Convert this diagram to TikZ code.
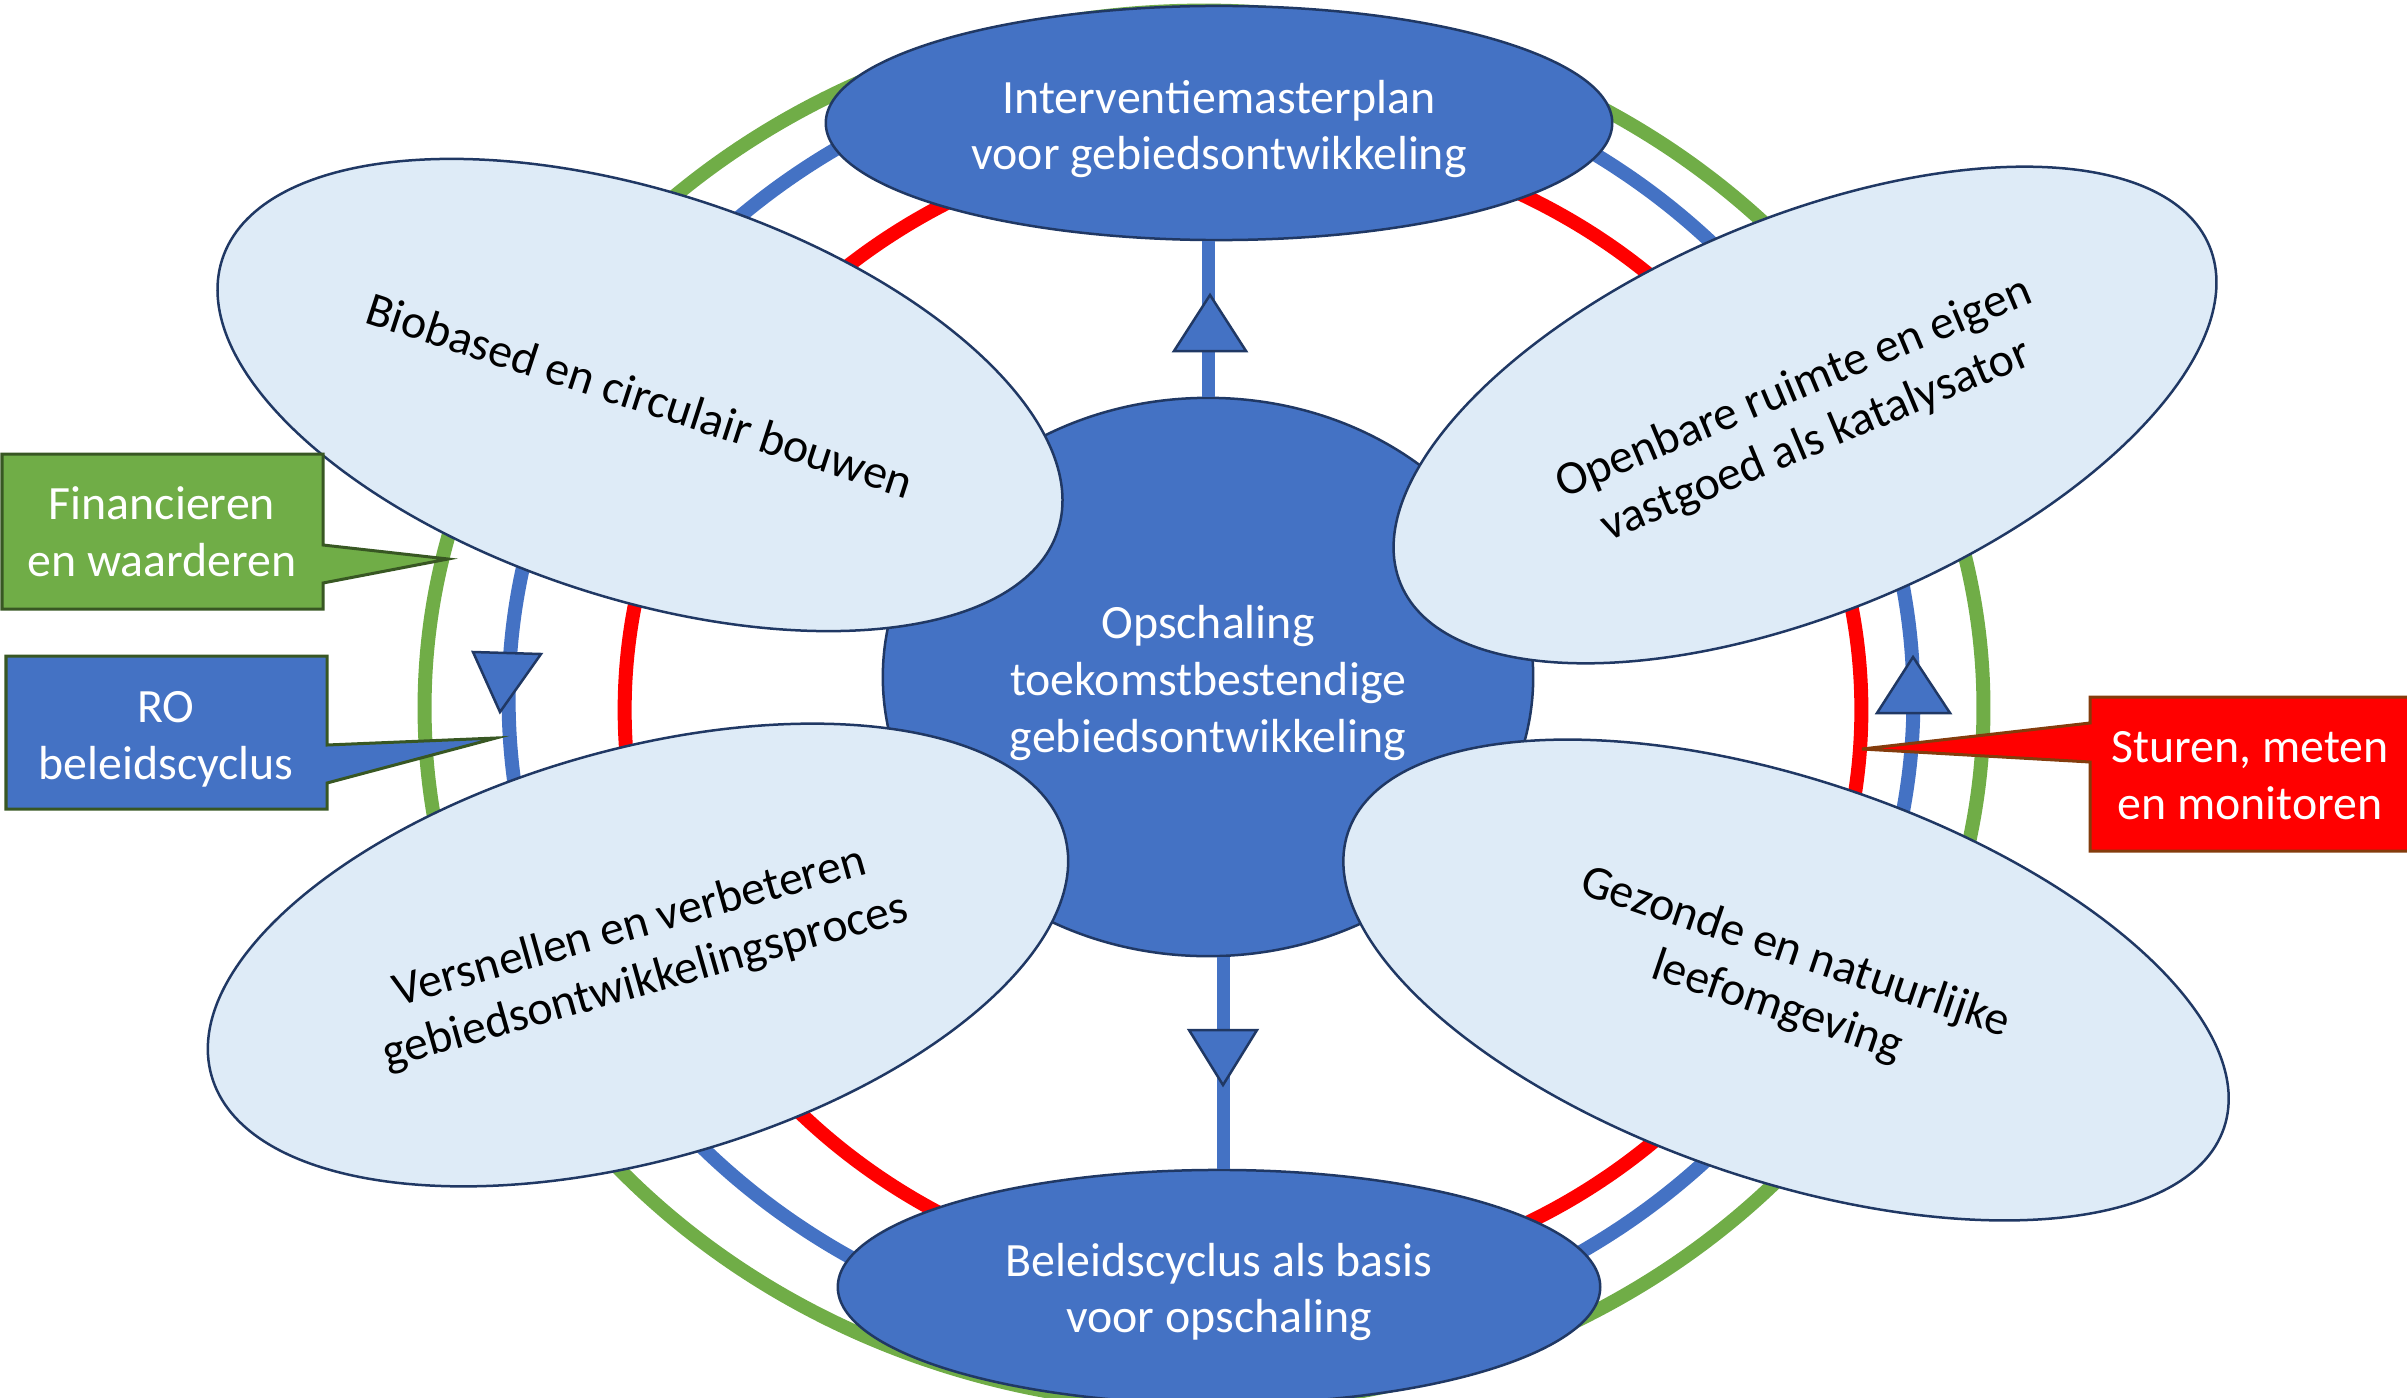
\documentclass[tikz,border=0pt]{standalone}
\usepackage{fontspec}
\setmainfont{Carlito}
\usetikzlibrary{shapes.geometric}
\definecolor{accblue}{HTML}{4472C4}
\definecolor{navy}{HTML}{203864}
\definecolor{lightblue}{HTML}{DEEBF7}
\definecolor{ringgreen}{HTML}{70AD47}
\definecolor{ringred}{HTML}{FF0000}
\definecolor{darkgreen}{HTML}{385723}
\definecolor{brownb}{HTML}{843C0C}
\begin{document}
\begin{tikzpicture}[x=0.01cm,y=-0.01cm,
  txt/.style={font=\fontsize{13.6pt}{16.2pt}\selectfont, align=center},
  darkell/.style={ellipse, draw=navy, line width=0.025cm, fill=accblue, inner sep=0pt},
  lightell/.style={ellipse, draw=navy, line width=0.025cm, fill=lightblue, text=black, inner sep=0pt, txt},
  ring/.style={line width=0.14cm},
  conn/.style={draw=accblue, line width=0.13cm},
  tri/.style={fill=accblue, draw=navy, line width=0.025cm, line join=miter},
  callout/.style={line width=0.03cm, line join=miter},
  boxtext/.style={txt, text=white}
]
\useasboundingbox (0,0) rectangle (2407,1397);
% rings
\draw[ring, ringgreen] (1204,708) ellipse [x radius=7.79cm, y radius=6.97cm];
\draw[ring, accblue] (1211,699) ellipse [x radius=7.02cm, y radius=6.50cm];
\draw[ring, ringred] (1243,710) ellipse [x radius=6.18cm, y radius=5.77cm];

% central and top/bottom nodes
\node[darkell, minimum width=6.50cm, minimum height=5.58cm] (hub) at (1208,677) {};
\node[boxtext] (hubtext) at (1208,683) {Opschaling\\toekomstbestendige\\gebiedsontwikkeling};
\node[darkell, minimum width=7.86cm, minimum height=2.34cm] (top) at (1219,123) {};
\node[boxtext] (toptext) at (1219,129) {Interventiemasterplan\\voor gebiedsontwikkeling};
\node[darkell, minimum width=7.62cm, minimum height=2.34cm] (bot) at (1219,1287) {};
\node[boxtext] (bottext) at (1219,1292) {Beleidscyclus als basis\\voor opschaling};

% connectors
\coordinate (bx) at (1223,0);
\draw[conn] (hub.north) -- (hub.north |- top.south);
\draw[conn] (hub.south -| bx) -- (bot.north -| bx);

% four light ellipses
\node[lightell, minimum width=8.78cm, minimum height=4.06cm, rotate=-18] (bio) at (640,395) {Biobased en circulair bouwen};
\node[lightell, minimum width=8.76cm, minimum height=3.94cm, rotate=22.7] (open) at (1805,415) {Openbare ruimte en eigen\\vastgoed als katalysator};
\node[lightell, minimum width=8.86cm, minimum height=4.10cm, rotate=15.8] (vers) at (638,955) {Versnellen en verbeteren\\gebiedsontwikkelingsproces};
\node[lightell, minimum width=9.24cm, minimum height=4.00cm, rotate=-18.65] (gez) at (1786,980) {Gezonde en natuurlijke\\leefomgeving};

% arrow triangles
\draw[tri] (1210,295) -- (1246,351) -- (1174,351) -- cycle;
\draw[tri] (1223,1085) -- (1189,1030) -- (1257,1030) -- cycle;
\draw[tri] (500,712) -- (473,652) -- (541,654) -- cycle;
\draw[tri] (1913,657) -- (1950,713) -- (1877,713) -- cycle;

% callouts
\coordinate (fintip) at (448,559);
\coordinate (rotip) at (496,738);
\coordinate (sttip) at (1862,749);
\draw[callout, fill=ringgreen, draw=darkgreen] (2,454) -- (323,454) -- (323,545) -- (fintip) -- (323,583) -- (323,609) -- (2,609) -- cycle;
\node[boxtext] (fin) at (162,532) {Financieren\\en waarderen};
\draw[callout, fill=accblue, draw=darkgreen] (6,656) -- (327,656) -- (327,745) -- (rotip) -- (327,783) -- (327,809) -- (6,809) -- cycle;
\node[boxtext] (ro) at (166,739) {RO\\beleidscyclus};
\draw[callout, fill=ringred, draw=brownb] (2415,697) -- (2090,697) -- (2090,723) -- (sttip) -- (2090,762) -- (2090,851) -- (2415,851) -- cycle;
\node[boxtext] (stu) at (2250,776) {Sturen, meten\\en monitoren};
\end{tikzpicture}
\end{document}
